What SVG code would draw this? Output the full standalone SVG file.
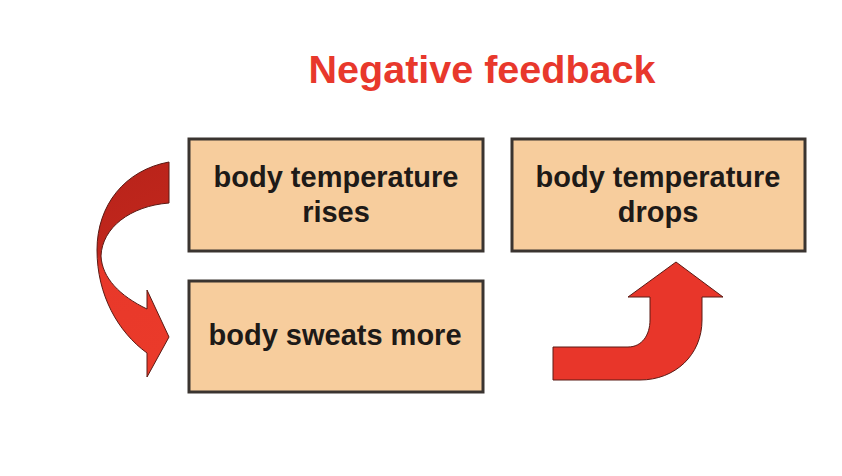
<svg xmlns="http://www.w3.org/2000/svg" width="842" height="476" viewBox="0 0 842 476">
<style>
.box{fill:#f7cd9d;stroke:#3a3430;stroke-width:3}
.lbl{font-family:"Liberation Sans",Arial,sans-serif;font-weight:bold;font-size:29px;fill:#1e1a18;text-anchor:middle}
.title{font-family:"Liberation Sans",Arial,sans-serif;font-weight:bold;font-size:39.5px;fill:#e8382c;text-anchor:middle}
.arrow{stroke:#5a1a14;stroke-width:1}
</style>
<defs>
<linearGradient id="lg" x1="0" y1="0" x2="0.15" y2="1">
<stop offset="0" stop-color="#b8231a"/>
<stop offset="0.42" stop-color="#c0261c"/>
<stop offset="0.5" stop-color="#e8382a"/>
<stop offset="1" stop-color="#ea3a2a"/>
</linearGradient>
</defs>
<rect width="842" height="476" fill="#ffffff"/>
<text class="title" x="482" y="83">Negative feedback</text>
<g id="node-rises">
<rect class="box" x="189" y="139" width="294" height="112"/>
<text class="lbl" x="336" y="187">body temperature</text>
<text class="lbl" x="336" y="222">rises</text>
</g>
<g id="node-drops">
<rect class="box" x="512" y="139" width="293" height="112"/>
<text class="lbl" x="658" y="187">body temperature</text>
<text class="lbl" x="658" y="222">drops</text>
</g>
<g id="node-sweats">
<rect class="box" x="189" y="281" width="294" height="111"/>
<text class="lbl" x="335" y="345">body sweats more</text>
</g>
<g id="connectors">
<path class="arrow" fill="url(#lg)" d="M169,162 C125,170 97,205 97,250 C97,295 118,332 147,353 L147,377 L169,337 L147,290 L147,309 C120,296 102,278 101,256 C102,228 130,206 169,203 Z"/>
<path class="arrow" fill="#e8362a" d="M553,347 L628,347 C642,347 650,335 650,320 L650,297 L628,297 L676,262 L723,297 L702,297 L702,320 C702,355 675,380 640,380 L553,380 Z"/>
</g>
</svg>
